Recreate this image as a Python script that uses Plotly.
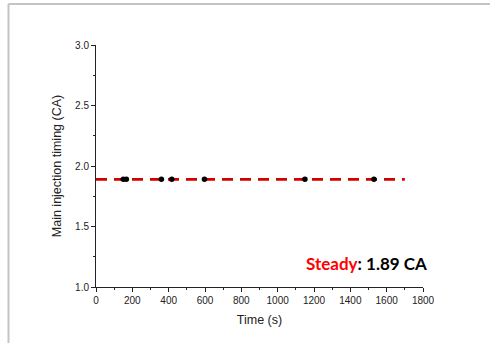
import plotly.graph_objects as go

# Measured main injection timing over time
time_s = [150, 167, 360, 417, 597, 1150, 1530]
timing_ca = [1.89, 1.89, 1.89, 1.89, 1.89, 1.89, 1.89]

# Steady-state reference level and its time span
steady_value = 1.89
steady_span = [0, 1700]

W, H = 490, 343
L, R, T, B = 96, 67, 45, 56
pw, ph = W - L - R, H - T - B

fig = go.Figure()

fig.add_trace(go.Scatter(
    x=steady_span, y=[steady_value, steady_value], mode="lines",
    line=dict(color="#d40000", width=2.8, dash="11px,7px"),
    hoverinfo="skip", showlegend=False,
))
fig.add_trace(go.Scatter(
    x=time_s, y=timing_ca, mode="markers",
    marker=dict(color="black", size=5.5),
    showlegend=False,
))

axis_font = dict(family="Liberation Sans, Arial, sans-serif", size=10, color="#222")
title_font = dict(family="Liberation Sans, Arial, sans-serif", size=12.5, color="#222")

fig.update_xaxes(
    range=[0, 1800], tickvals=list(range(0, 1801, 200)),
    ticks="outside", ticklen=4, tickwidth=1, tickcolor="#222",
    minor=dict(ticks="outside", ticklen=2, dtick=100, tickcolor="#222"),
    showline=True, linecolor="#222", linewidth=1, showgrid=False, zeroline=False,
    tickfont=axis_font, title=dict(text="Time (s)", font=title_font, standoff=10),
)
fig.update_yaxes(
    range=[1.0, 3.0], tickvals=[1.0, 1.5, 2.0, 2.5, 3.0], tickformat=".1f",
    ticks="outside", ticklen=4, tickwidth=1, tickcolor="#222",
    minor=dict(ticks="outside", ticklen=2, dtick=0.25, tickcolor="#222"),
    showline=True, linecolor="#222", linewidth=1, showgrid=False, zeroline=False,
    tickfont=axis_font,
    title=dict(text="Main injection timing (CA)", font=title_font, standoff=10),
)

# Grey frame along the top and left edges
bx = (8.5 - L) / pw
by = 1 + (T - 4) / ph
bottom = -(B + 5) / ph
right = 1 + (R + 5) / pw
fig.add_shape(type="line", xref="paper", yref="paper", x0=bx, x1=right, y0=by, y1=by,
              line=dict(color="#c4c4c4", width=2))
fig.add_shape(type="line", xref="paper", yref="paper", x0=bx, x1=bx, y0=by, y1=bottom,
              line=dict(color="#c4c4c4", width=2))

fig.add_annotation(
    xref="paper", yref="paper", x=(304 - L) / pw, y=(H - B - 263) / ph,
    xanchor="left", yanchor="middle", showarrow=False,
    text="<b><span style='color:#ff0000'>Steady</span>: %.2f CA</b>" % steady_value,
    font=dict(family="Lato, Carlito, sans-serif", size=17, color="black"),
)

fig.update_layout(
    width=W, height=H, margin=dict(l=L, r=R, t=T, b=B),
    paper_bgcolor="white", plot_bgcolor="white",
)

fig.write_html("out.html")
